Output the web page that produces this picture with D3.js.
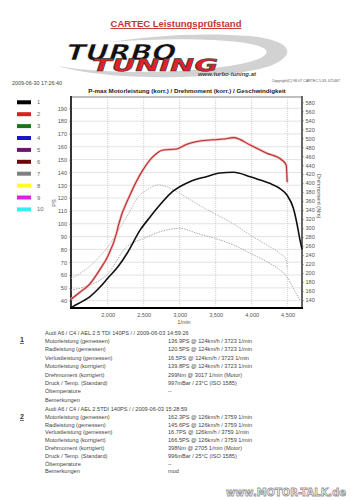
<!DOCTYPE html>
<meta charset="utf-8">
<style>
  body { margin: 0; background: #fff; }
  svg { display: block; font-family: "Liberation Sans", Arial, sans-serif; }
  .tick text { fill: #555; font-size: 5.6px; }
  .info { fill: #444; font-size: 5.6px; }
</style>
<body>
<div id="chart"></div>
<script src="https://cdn.jsdelivr.net/npm/d3@7"></script>
<script>
  // run 1 (black) - Motorleistung korr., PS
  var rpmPower1 = [1490, 1600, 1750, 1900, 2000, 2150, 2270, 2450, 2600, 2700, 2900, 3140, 3370, 3560, 3745, 3980, 4120, 4250, 4390, 4490, 4580, 4630, 4670, 4700];
  var psPower1 = [34.6, 38, 43, 51, 57.5, 67, 77, 95, 106, 113, 125, 132.8, 136.7, 139.5, 140.1, 136.7, 134.1, 131.5, 127.6, 122.4, 112, 100, 88, 80];
  // run 2 (red)
  var rpmPower2 = [1490, 1600, 1750, 1900, 2000, 2125, 2150, 2310, 2490, 2630, 2770, 2960, 3100, 3280, 3470, 3600, 3750, 3980, 4210, 4420, 4480, 4495];
  var psPower2 = [41, 46, 53, 65, 74.5, 93, 99, 122.4, 142, 152.3, 157.5, 158.3, 162, 164.5, 165.5, 166, 167.1, 161.4, 155, 149.7, 145.8, 132.3];
  // torque (dotted), Nm
  var rpmTorque1 = [1490, 1750, 1990, 2260, 2500, 2730, 3000, 3240, 3560, 3750, 3980, 4210, 4390, 4490, 4580, 4670];
  var nmTorque1 = [162, 173.5, 196, 258, 277, 292, 299.6, 288.5, 273.6, 262.5, 244, 225.3, 207, 192, 166, 140];
  var rpmTorque2 = [1490, 1750, 2000, 2264, 2449, 2540, 2700, 2820, 3000, 3190, 3370, 3560, 3750, 4000, 4210, 4390, 4480, 4495];
  var nmTorque2 = [188, 215, 258, 325, 374, 384, 396, 392, 377.5, 359, 342, 326, 309, 282.5, 262.5, 244, 230.7, 210.6];

  var psTicks = d3.range(40, 191, 10);
  var nmTicks = d3.range(140, 581, 20);
  var rpmTicks = [2000, 2500, 3000, 3500, 4000, 4500];

  var legendNames = ["1", "2", "3", "4", "5", "6", "7", "8", "9", "10"];
  var legendColors = ["#000000", "#d42222", "#187818", "#1818c8", "#6a1670", "#680808", "#808080", "#ffff22", "#e020e0", "#33f0f0"];

  var infoLabels = ["Motorleistung (gemessen)", "Radleistung (gemessen)", "Verlustleistung (gemessen)", "Motorleistung (korrigiert)", "Drehmoment (korrigiert)", "Druck / Temp. (Standard)", "Öltemperature", "Bemerkungen"];
  var run1Header = "Audi A6 / C4 / AEL 2.5 TDI 140PS /  / 2009-06-03 14:59:26";
  var run1Values = ["136.9PS @ 124km/h / 3723 1/min", "120.5PS @ 124km/h / 3723 1/min", "16.5PS @ 124km/h / 3723 1/min", "139.8PS @ 124km/h / 3723 1/min", "299Nm @ 3017 1/min (Motor)", "997mBar / 23°C     (ISO 1585)", "--", ""];
  var run2Header = "Audi A6 / C4 / AEL 2.5TDI 140PS /  / 2009-06-03 15:28:59";
  var run2Values = ["162.3PS @ 126km/h / 3759 1/min", "145.6PS @ 126km/h / 3759 1/min", "16.7PS @ 126km/h / 3759 1/min", "166.5PS @ 126km/h / 3759 1/min", "398Nm @ 2705 1/min (Motor)", "996mBar / 25°C     (ISO 1585)", "--", "mod"];

  var W = 353, H = 500;
  var plot = { left: 71, right: 302, top: 97, bottom: 308 };

  var svg = d3.select("#chart").append("svg")
    .attr("width", W)
    .attr("height", H);

  // ---- header
  svg.append("text")
    .attr("x", 176).attr("y", 27)
    .attr("text-anchor", "middle")
    .style("font-size", "9.5px")
    .style("font-weight", "bold")
    .style("fill", "#c43636")
    .style("text-decoration", "underline")
    .text("CARTEC Leistungsprüfstand");

  // logo swoosh
  var logo = svg.append("g");
  logo.append("path")
    .attr("d", "M58,66 C110,82 230,80 270,66 C300,54 290,40 250,36 C200,32 150,36 110,42 C190,36 258,40 266,50 C272,60 230,70 150,72 C110,72 80,70 58,66 Z")
    .style("fill", "#d2d2d2");
  logo.append("text")
    .attr("x", 0).attr("y", 0)
    .attr("transform", "translate(64,60) skewX(-18)")
    .attr("textLength", 110).attr("lengthAdjust", "spacingAndGlyphs")
    .style("font-family", "DejaVu Sans").style("font-weight", "bold")
    .style("font-size", "22px")
    .style("fill", "#111").style("stroke", "#fff").style("stroke-width", 0.6)
    .text("TURBO");
  logo.append("text")
    .attr("x", 0).attr("y", 0)
    .attr("transform", "translate(90,71) skewX(-18)")
    .attr("textLength", 126).attr("lengthAdjust", "spacingAndGlyphs")
    .style("font-family", "DejaVu Sans").style("font-weight", "bold")
    .style("font-size", "17px")
    .style("fill", "#e0202a").style("stroke", "#333").style("stroke-width", 0.5)
    .text("TUNING");
  logo.append("text")
    .attr("x", 227).attr("y", 76)
    .attr("text-anchor", "middle")
    .style("font-size", "6px").style("font-style", "italic").style("font-weight", "bold")
    .style("fill", "#444")
    .text("www.turbo-tuning.at");

  svg.append("text")
    .attr("x", 12).attr("y", 85)
    .style("font-size", "5.4px").style("fill", "#444")
    .text("2009-06-30 17:26:40");
  svg.append("text")
    .attr("x", 340).attr("y", 82)
    .attr("text-anchor", "end")
    .style("font-size", "3.6px").style("fill", "#555")
    .text("Copyright(C) 98-07 CARTEC 5.33, 071467");

  svg.append("text")
    .attr("x", 187).attr("y", 93)
    .attr("text-anchor", "middle")
    .style("font-size", "6.2px").style("font-weight", "bold").style("fill", "#222")
    .text("P-max Motorleistung (korr.) / Drehmoment (korr.) / Geschwindigkeit");

  // ---- scales
  var x = d3.scaleLinear().domain([1490, 4700]).range([plot.left, plot.right]);
  var yPS = d3.scaleLinear().domain([34.3, 198.8]).range([plot.bottom, plot.top]);
  var yNm = d3.scaleLinear().domain([122.2, 591.8]).range([plot.bottom, plot.top]);

  // grid
  svg.append("g").selectAll("line")
    .data(psTicks)
    .enter().append("line")
    .attr("x1", plot.left).attr("x2", plot.right)
    .attr("y1", d => yPS(d)).attr("y2", d => yPS(d))
    .style("stroke", "#dcdcdc").style("stroke-width", 0.8);
  svg.append("g").selectAll("line")
    .data(rpmTicks)
    .enter().append("line")
    .attr("x1", d => x(d)).attr("x2", d => x(d))
    .attr("y1", plot.top).attr("y2", plot.bottom)
    .style("stroke", "#c4c4c4").style("stroke-width", 0.8)
    .style("stroke-dasharray", "1,1");

  // frame
  svg.append("line")
    .attr("x1", plot.left).attr("x2", plot.right)
    .attr("y1", plot.top).attr("y2", plot.top)
    .style("stroke", "#aaa").style("stroke-width", 1.5);

  // ---- axes
  var leftAxis = svg.append("g")
    .attr("transform", "translate(" + plot.left + ",0)")
    .call(d3.axisLeft(yPS).tickValues(psTicks).tickSize(2).tickPadding(2));
  var rightAxis = svg.append("g")
    .attr("transform", "translate(" + plot.right + ",0)")
    .call(d3.axisRight(yNm).tickValues(nmTicks).tickSize(2).tickPadding(1.5));
  var bottomAxis = svg.append("g")
    .attr("transform", "translate(0," + plot.bottom + ")")
    .call(d3.axisBottom(x).tickValues(rpmTicks).tickSize(0).tickPadding(5).tickFormat(d3.format(",")));

  [leftAxis, rightAxis, bottomAxis].forEach(function (a) {
    a.selectAll(".tick line").style("stroke", "#888").style("stroke-width", 0.6);
    a.select(".domain").remove();
  });

  svg.append("line")
    .attr("x1", plot.left).attr("x2", plot.left)
    .attr("y1", plot.top - 1).attr("y2", plot.bottom)
    .style("stroke", "#333").style("stroke-width", 2);
  svg.append("line")
    .attr("x1", plot.right).attr("x2", plot.right)
    .attr("y1", plot.top - 1).attr("y2", plot.bottom + 1)
    .style("stroke", "#666").style("stroke-width", 2);
  svg.append("line")
    .attr("x1", plot.left - 1).attr("x2", plot.right + 1)
    .attr("y1", plot.bottom).attr("y2", plot.bottom)
    .style("stroke", "#000").style("stroke-width", 2);

  svg.append("text")
    .attr("transform", "translate(56,203) rotate(-90)")
    .attr("text-anchor", "middle")
    .style("font-size", "5.6px").style("fill", "#555")
    .text("PS");
  svg.append("text")
    .attr("transform", "translate(317,196) rotate(90)")
    .attr("text-anchor", "middle")
    .style("font-size", "5.4px").style("fill", "#555")
    .text("Drehmoment (Nm)");
  svg.append("text")
    .attr("x", 184).attr("y", 324)
    .attr("text-anchor", "middle")
    .style("font-size", "5.4px").style("fill", "#555")
    .text("1/min");

  // ---- curves
  var plotArea = svg.append("g");

  function drawLine(rpms, vals, yScale, stroke, width, dash) {
    var line = d3.line()
      .x(d => x(d[0]))
      .y(d => yScale(d[1]))
      .curve(d3.curveMonotoneX);
    return plotArea.append("path")
      .datum(d3.zip(rpms, vals))
      .attr("d", line)
      .style("fill", "none")
      .style("stroke", stroke)
      .style("stroke-width", width)
      .style("stroke-dasharray", dash || null);
  }

  drawLine(rpmTorque1, nmTorque1, yNm, "#9a9a9a", 0.9, "1.4,1.2");
  drawLine(rpmTorque2, nmTorque2, yNm, "#a8a8a8", 0.9, "1.4,1.2");
  drawLine(rpmPower2, psPower2, yPS, "#f2b6b6", 2.6);
  drawLine(rpmPower2, psPower2, yPS, "#b83030", 1.1);
  drawLine(rpmPower1, psPower1, yPS, "#111", 1.6);

  // ---- legend
  var legend = svg.append("g").selectAll("g")
    .data(legendNames)
    .enter().append("g")
    .attr("transform", (d, i) => "translate(17," + (102.3 + i * 11.9) + ")");
  legend.append("rect")
    .attr("x", 0).attr("y", -2)
    .attr("width", 14).attr("height", 4)
    .style("fill", (d, i) => legendColors[i]);
  legend.append("text")
    .attr("x", 20).attr("y", 2)
    .style("font-size", "5.8px").style("fill", "#666")
    .text(d => d);

  // ---- run info blocks
  function infoBlock(num, header, values, top, step, numY) {
    var g = svg.append("g");
    g.append("text")
      .attr("x", 20).attr("y", numY)
      .style("font-size", "7px").style("font-weight", "bold").style("fill", "#333")
      .style("text-decoration", "underline")
      .text(num);
    g.append("text").attr("class", "info")
      .attr("x", 45).attr("y", top)
      .text(header);
    infoLabels.forEach(function (lab, i) {
      g.append("text").attr("class", "info")
        .attr("x", 45).attr("y", top + step * (i + 1))
        .text(lab);
      g.append("text").attr("class", "info")
        .attr("x", 168).attr("y", top + step * (i + 1))
        .text(values[i]);
    });
  }
  infoBlock("1", run1Header, run1Values, 334.5, 8.4, 342);
  infoBlock("2", run2Header, run2Values, 411, 7.8, 419);

  // watermark
  svg.append("text")
    .attr("x", 226).attr("y", 496)
    .style("font-family", "DejaVu Sans").style("font-weight", "bold")
    .style("font-size", "10.5px")
    .style("fill", "#fff").style("stroke", "#9a9a9a").style("stroke-width", 0.9)
    .attr("textLength", 120).attr("lengthAdjust", "spacingAndGlyphs")
    .text("www.MOTOR-TALK.de");
</script>
</body>
